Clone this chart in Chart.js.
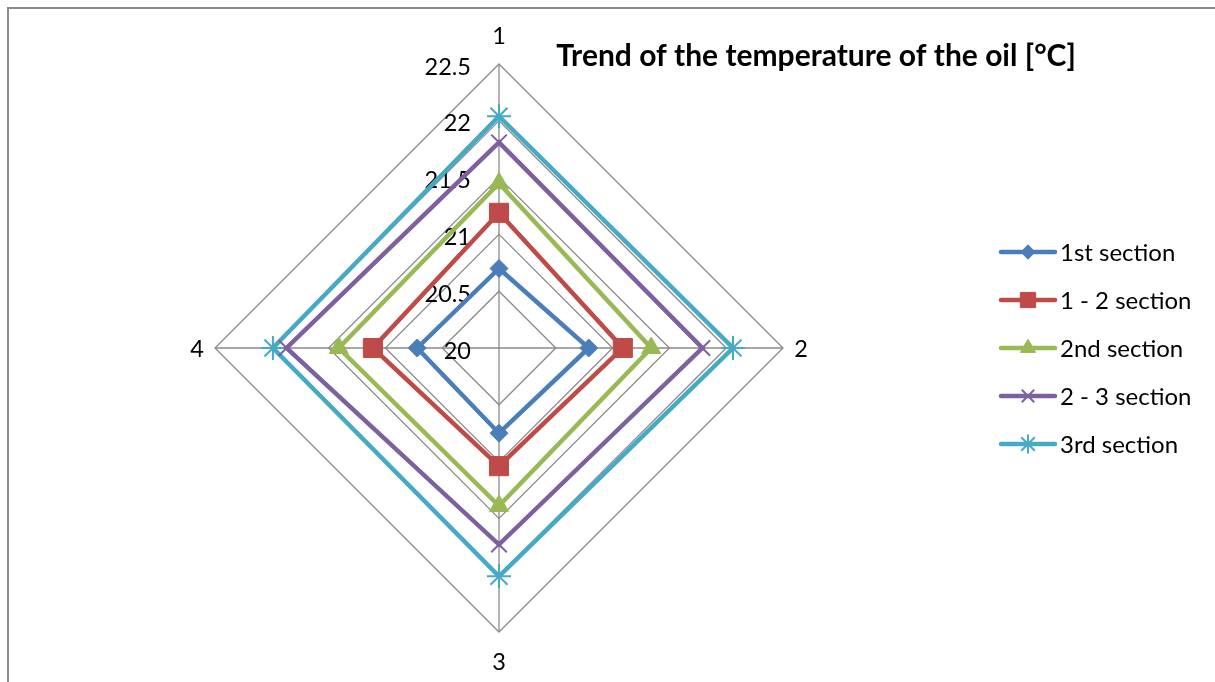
<!DOCTYPE html>
<html lang="en">
<head>
  <meta charset="UTF-8" />
  <title>Trend of the temperature of the oil</title>
  <script src="https://cdn.jsdelivr.net/npm/chart.js@4.4.1/dist/chart.umd.min.js"></script>
  <style>
    html, body { margin: 0; padding: 0; background: #fff; overflow: hidden; }
    .moldura { position: absolute; left: 7px; top: 7px; width: 1300px; height: 800px;
               border-left: 2px solid #8a8a8a; border-top: 2px solid #8a8a8a; }
    #grafico { position: absolute; left: 0; top: 0; }
  </style>
</head>
<body>
  <div class="moldura"></div>
  <canvas id="grafico" width="1215" height="682"></canvas>

<script>
  const axisLabels = ['1', '2', '3', '4'];
  const tickValues = [20, 20.5, 21, 21.5, 22, 22.5];
  const seriesNames = ['1st section', '1 - 2 section', '2nd section', '2 - 3 section', '3rd section'];

  const section1 = [20.70, 20.79, 20.75, 20.72];
  const section12 = [21.19, 21.09, 21.04, 21.11];
  const section2 = [21.45, 21.34, 21.39, 21.41];
  const section23 = [21.81, 21.79, 21.73, 21.87];
  const section3 = [22.04, 22.06, 22.01, 21.99];

  const titulo = 'Trend of the temperature of the oil [°C]';
  const fonte = 'Lato, "Open Sans", sans-serif';

  function serie(nome, valores, cor, estilo, raio, borda, preencher) {
    return {
      label: nome,
      data: valores,
      borderColor: cor,
      borderWidth: 4.5,
      backgroundColor: 'rgba(0,0,0,0)',
      fill: false,
      pointStyle: estilo,
      pointRadius: raio,
      pointHoverRadius: raio,
      pointBorderWidth: borda,
      pointBorderColor: cor,
      pointBackgroundColor: preencher ? cor : 'rgba(0,0,0,0)'
    };
  }

  const datasets = [
    serie(seriesNames[0], section1, '#4a7ebb', 'rectRot', 9, 1, true),
    serie(seriesNames[1], section12, '#be4b48', 'rect', 13.5, 1, true),
    serie(seriesNames[2], section2, '#98b954', 'triangle', 11, 1, true),
    serie(seriesNames[3], section23, '#7d60a0', 'crossRot', 11, 2, false),
    serie(seriesNames[4], section3, '#46aac5', 'star', 12, 2, false)
  ];

  // textos: ticks, rótulos dos eixos, título e legenda
  const textos = {
    id: 'textos',
    beforeDatasetsDraw(chart) {
      const ctx = chart.ctx;
      const r = chart.scales.r;
      ctx.save();
      ctx.font = '23.5px ' + fonte;
      ctx.fillStyle = '#000';
      ctx.textAlign = 'right';
      ctx.textBaseline = 'middle';
      tickValues.forEach(v => {
        const d = r.getDistanceFromCenterForValue(v);
        ctx.fillText(String(v), r.xCenter - 28, r.yCenter - d + 3);
      });
      ctx.restore();
    },
    afterDraw(chart) {
      const ctx = chart.ctx;
      const r = chart.scales.r;
      ctx.save();

      ctx.font = '23.5px ' + fonte;
      ctx.fillStyle = '#000';
      ctx.textAlign = 'center';
      ctx.textBaseline = 'middle';
      axisLabels.forEach((lab, i) => {
        const p0 = r.getPointPosition(i, r.drawingArea);
        const extra = 18 + 11 * Math.abs(Math.sin(p0.angle));
        const p = r.getPointPosition(i, r.drawingArea + extra);
        ctx.fillText(lab, p.x, p.y + 1);
      });

      ctx.font = 'bold 30px ' + fonte;
      ctx.fillText(titulo, 816, 56);

      const x0 = 1001, x1 = 1055, y0 = 252, passo = 48;
      chart.data.datasets.forEach((ds, i) => {
        const y = y0 + i * passo;
        ctx.strokeStyle = ds.borderColor;
        ctx.lineWidth = 4.5;
        ctx.lineCap = 'round';
        ctx.beginPath();
        ctx.moveTo(x0, y);
        ctx.lineTo(x1, y);
        ctx.stroke();

        ctx.fillStyle = ds.pointBackgroundColor;
        ctx.strokeStyle = ds.pointBorderColor;
        ctx.lineWidth = ds.pointBorderWidth;
        ctx.lineCap = 'butt';
        Chart.helpers.drawPoint(ctx, {
          pointStyle: ds.pointStyle,
          radius: ds.pointRadius * 0.8,
          rotation: 0,
          borderWidth: ds.pointBorderWidth
        }, (x0 + x1) / 2, y);

        ctx.fillStyle = '#000';
        ctx.font = '24px ' + fonte;
        ctx.textAlign = 'left';
        ctx.fillText(ds.label, 1060, y + 1);
      });

      ctx.restore();
    }
  };

  new Chart(document.getElementById('grafico'), {
    type: 'radar',
    data: { labels: axisLabels, datasets: datasets },
    options: {
      responsive: false,
      animation: false,
      layout: { padding: { left: 215, top: 64, right: 432, bottom: 50 } },
      elements: { line: { tension: 0 } },
      plugins: {
        legend: { display: false },
        title: { display: false },
        tooltip: { enabled: false }
      },
      scales: {
        r: {
          min: 20,
          max: 22.5,
          ticks: { display: false, stepSize: 0.5 },
          pointLabels: { display: false },
          grid: { color: '#8a8a8a', lineWidth: 1.3 },
          angleLines: { color: '#8a8a8a', lineWidth: 1.3 }
        }
      }
    },
    plugins: [textos]
  });
</script>
</body>
</html>
